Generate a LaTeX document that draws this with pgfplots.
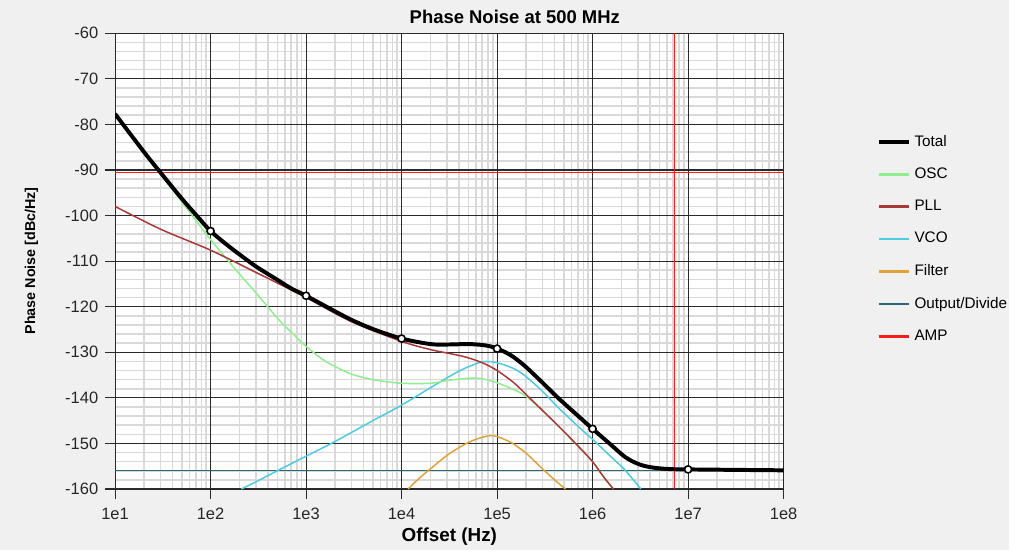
\documentclass[border=0pt]{standalone}
\usepackage{pgfplots}
\pgfplotsset{compat=1.18}
\usepackage{fontspec}
\setmainfont{Liberation Sans}

\definecolor{figbg}{HTML}{F0F0F0}
\definecolor{osc}{HTML}{90EE90}
\definecolor{pll}{HTML}{A8383A}
\definecolor{vco}{HTML}{4CCBDF}
\definecolor{filt}{HTML}{DDA33A}
\definecolor{outdiv}{HTML}{2B6676}
\definecolor{amp}{HTML}{FF1A1A}
\definecolor{majgrid}{HTML}{2A2A2A}
\definecolor{mingrid}{HTML}{D9D9D9}

\begin{document}
\begin{tikzpicture}
\fill[figbg] (0,0) rectangle (508.5pt,277pt);
\node[font=\bfseries\fontsize{9.3}{11}\selectfont] at (259.5pt,268.5pt) {Phase Noise at 500 MHz};
\node[font=\bfseries\fontsize{7.2}{9}\selectfont, rotate=90] at (15.8pt,145.5pt) {Phase Noise [dBc/Hz]};
\node[font=\bfseries\fontsize{9.5}{11}\selectfont] at (226.5pt,6.5pt) {Offset (Hz)};
\begin{axis}[
    at={(58pt,30.5pt)}, anchor=south west,
    scale only axis, width=337pt, height=229.75pt,
    xmode=log, log basis x=10,
    xmin=10, xmax=1e8, ymin=-160, ymax=-60,
    xtick={1e1,1e2,1e3,1e4,1e5,1e6,1e7,1e8},
    xticklabels={1e1,1e2,1e3,1e4,1e5,1e6,1e7,1e8},
    minor xtick={2e1,3e1,4e1,5e1,6e1,7e1,8e1,9e1,
                 2e2,3e2,4e2,5e2,6e2,7e2,8e2,9e2,
                 2e3,3e3,4e3,5e3,6e3,7e3,8e3,9e3,
                 2e4,3e4,4e4,5e4,6e4,7e4,8e4,9e4,
                 2e5,3e5,4e5,5e5,6e5,7e5,8e5,9e5,
                 2e6,3e6,4e6,5e6,6e6,7e6,8e6,9e6,
                 2e7,3e7,4e7,5e7,6e7,7e7,8e7,9e7},
    extra x ticks={1e1,1e2,1e3,1e4,1e5,1e6,1e7,1e8},
    extra x tick labels={},
    extra x tick style={grid=major},
    ytick={-160,-150,...,-60},
    minor y tick num=4,
    grid=both,
    major grid style={majgrid, line width=0.55pt},
    minor grid style={mingrid, line width=0.8pt},
    axis line style={majgrid, line width=0.55pt},
    axis background/.style={fill=white},
    tick align=outside,
    major tick length=5pt, minor tick length=0pt,
    tick style={majgrid, line width=0.55pt},
    xtick pos=bottom, ytick pos=left,
    ticklabel style={font=\fontsize{8.3}{10}\selectfont, text=black!85},
    /pgf/number format/assume math mode=true,
    xticklabel style={yshift=-1pt},
    legend style={draw=none, fill=none, at={(1.13,0.795)}, anchor=north west,
        font=\fontsize{7.7}{9}\selectfont, row sep=5.4pt},
    legend cell align=left,
    legend image code/.code={\draw[#1] (0pt,0pt) -- (15pt,0pt);},
]
\addlegendimage{black, line width=2pt}
\addlegendentry{Total}
\addlegendimage{osc, line width=1.3pt}
\addlegendentry{OSC}
\addlegendimage{pll, line width=1.3pt}
\addlegendentry{PLL}
\addlegendimage{vco, line width=1.3pt}
\addlegendentry{VCO}
\addlegendimage{filt, line width=1.3pt}
\addlegendentry{Filter}
\addlegendimage{outdiv, line width=1.3pt}
\addlegendentry{Output/Divide}
\addlegendimage{amp, line width=1.3pt}
\addlegendentry{AMP}

% Output/Divide
\addplot[outdiv, line width=0.8pt, forget plot] coordinates {(10,-155.9) (1e8,-155.9)};
% AMP
\addplot[amp, line width=0.7pt, forget plot] coordinates {(10,-90.6) (1e8,-90.6)};
\addplot[amp, line width=0.7pt, forget plot] coordinates {(7.2e6,-160) (7.2e6,-60)};
% Filter
\addplot[filt, line width=0.75pt, smooth, forget plot] coordinates {
    (1.17e4,-160) (1.5e4,-157.8) (2e4,-155.6) (3e4,-152.6) (4.4e4,-150.4)
    (6e4,-149.1) (8.3e4,-148.3) (1e5,-148.5) (1.4e5,-149.8) (2e5,-152.1)
    (3e5,-155.6) (4e5,-158.0) (5.2e5,-160)
};
% VCO
\addplot[vco, line width=0.75pt, smooth, forget plot] coordinates {
    (210,-160) (300,-158.4) (500,-156.0) (1000,-152.8) (2000,-149.6)
    (5000,-145.0) (1e4,-141.6) (2e4,-137.8) (3e4,-135.6) (4.4e4,-133.7)
    (7e4,-132.1) (1e5,-132.3) (1.5e5,-133.6) (2e5,-135.3) (3e5,-138.6)
    (4.4e5,-142.2) (7e5,-146.2) (1e6,-149.1) (1.5e6,-152.6) (2.2e6,-155.9)
    (3.2e6,-160)
};
% OSC
\addplot[osc, line width=0.75pt, smooth, forget plot] coordinates {
    (10,-77.8) (20,-86.1) (30,-90.9) (50,-97.0) (70,-101.0)
    (100,-105.3) (200,-112.8) (300,-117.0) (500,-122.5)
    (700,-125.6) (1000,-128.7) (1500,-131.6) (2000,-133.1) (3000,-134.8)
    (5000,-136) (1e4,-136.8) (2e4,-136.8) (3e4,-136.2) (5e4,-135.7)
    (7e4,-135.8) (1e5,-136.7) (1.5e5,-138.2) (2e5,-139.6) (3e5,-142.8)
    (4.4e5,-146.2) (7e5,-150.6) (1e6,-154) (1.3e6,-157.3) (1.65e6,-160)
};
% PLL
\addplot[pll, line width=0.75pt, smooth, forget plot] coordinates {
    (10,-98) (30,-103) (100,-107.6) (300,-112.5) (1000,-118) (3000,-123.3)
    (1e4,-127.6) (2e4,-129.4) (4.4e4,-130.9) (7e4,-132.3) (1e5,-134.0)
    (1.5e5,-136.7) (2e5,-139.2) (3e5,-142.8) (4.4e5,-146.2) (7e5,-150.5)
    (1e6,-154) (1.3e6,-157.3) (1.65e6,-160)
};
% Total
\addplot[black, line width=2pt, smooth, forget plot] coordinates {
    (10,-77.7) (20,-86.0) (30,-90.6) (50,-96.3) (70,-99.8)
    (100,-103.4) (150,-106.5) (200,-108.5) (300,-111.2) (500,-114.1)
    (700,-116.0) (1000,-117.6) (2000,-121.0) (3000,-122.9) (5000,-124.9)
    (1e4,-127.0) (2e4,-128.2) (3e4,-128.3) (5e4,-128.2) (7e4,-128.4)
    (8.5e4,-128.7) (1e5,-129.2) (1.25e5,-130.1) (1.5e5,-131.1) (2e5,-133.2)
    (3e5,-136.7) (4.4e5,-140.1) (7e5,-143.9) (1e6,-146.8) (1.5e6,-150.0)
    (2.2e6,-153.0) (3e6,-154.5) (4e6,-155.2) (6e6,-155.6) (1e7,-155.7)
    (1e8,-155.9)
};
\addplot[only marks, mark=*, mark size=1.8pt, mark options={fill=white, draw=black, line width=0.8pt}, forget plot] coordinates {
    (100,-103.4) (1000,-117.6) (1e4,-127.0) (1e5,-129.2) (1e6,-146.8) (1e7,-155.7)
};
\end{axis}
\end{tikzpicture}
\end{document}
